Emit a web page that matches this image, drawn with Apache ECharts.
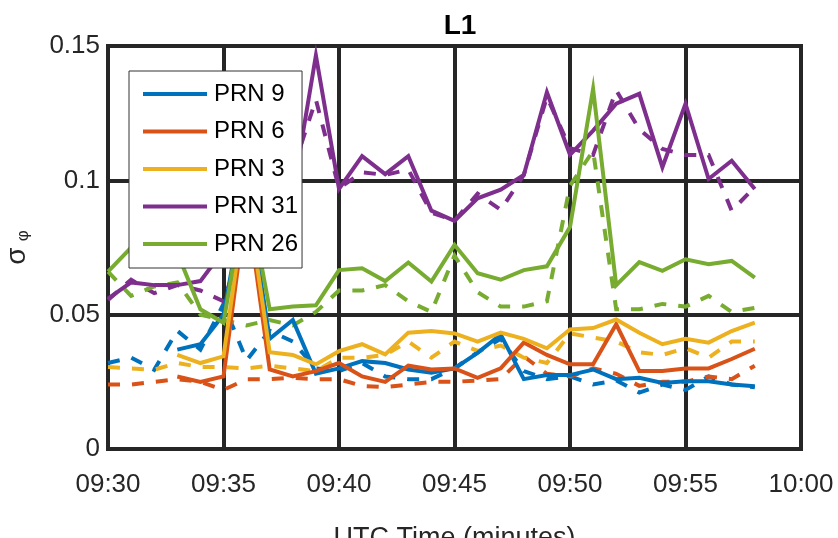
<!DOCTYPE html>
<html><head><meta charset="utf-8">
<script src="https://cdn.jsdelivr.net/npm/echarts@6/dist/echarts.min.js"></script>
<style>html,body{margin:0;padding:0;background:#fff}#c{width:838px;height:538px}</style>
</head><body><div id="c"></div>
<script>
const FONT = '"Liberation Sans",Arial,sans-serif';
// minutes after 09:30
const minutes = [0,1,2,3,4,5,6,7,8,9,10,11,12,13,14,15,16,17,18,19,20,21,22,23,24,25,26,27,28];
const tickLabels = ['09:30','09:35','09:40','09:45','09:50','09:55','10:00'];
const prnNames = ['PRN 9','PRN 6','PRN 3','PRN 31','PRN 26'];
const colors = ['#0072BD','#D95319','#EDB120','#7E2F8E','#77AC30'];

const prn9Solid  = [null,null,null,0.037,0.039,0.050,0.097,0.041,0.048,0.028,0.030,0.0327,0.032,0.0296,0.0284,0.030,0.0358,0.0426,0.026,0.0275,0.0275,0.0296,0.026,0.0265,0.0246,0.0252,0.0252,0.024,0.0234];
const prn9Dash   = [0.032,0.034,0.0295,0.044,0.037,0.054,0.033,0.044,0.040,0.030,0.029,0.032,0.027,0.026,0.026,0.030,0.036,0.041,0.029,0.026,0.027,0.024,0.0255,0.021,0.024,0.022,0.027,0.024,0.023];
const prn6Solid  = [null,null,null,0.027,0.025,0.027,0.092,0.0296,0.027,0.029,0.032,0.027,0.025,0.031,0.0296,0.030,0.0265,0.030,0.0396,0.035,0.0315,0.0315,0.0464,0.029,0.029,0.030,0.030,0.0335,0.0373];
const prn6Dash   = [0.024,0.024,0.025,0.026,0.025,0.022,0.026,0.026,0.0265,0.026,0.026,0.0235,0.023,0.024,0.025,0.025,0.0255,0.026,0.0345,0.028,0.027,0.030,0.028,0.0235,0.025,0.025,0.027,0.026,0.031];
const prn3Solid  = [null,null,null,0.035,0.032,0.0345,0.095,0.036,0.035,0.0315,0.0364,0.039,0.0352,0.0433,0.0439,0.043,0.040,0.0433,0.041,0.0375,0.0445,0.045,0.0482,0.0433,0.039,0.041,0.0396,0.0439,0.047];
const prn3Dash   = [0.0305,0.030,0.0295,0.032,0.0305,0.0305,0.030,0.031,0.030,0.029,0.034,0.034,0.035,0.040,0.034,0.040,0.0365,0.0385,0.034,0.032,0.043,0.0415,0.040,0.036,0.035,0.0375,0.034,0.040,0.040];
const prn31Solid = [0.056,0.062,0.061,0.061,0.0625,0.074,0.085,0.080,0.095,0.1465,0.0968,0.109,0.1023,0.109,0.0887,0.0849,0.0933,0.0965,0.102,0.1328,0.1095,0.1185,0.1285,0.1322,0.1049,0.1285,0.1005,0.1073,0.0968];
const prn31Dash  = [0.0555,0.063,0.058,0.061,0.059,0.055,0.080,0.085,0.104,0.130,0.097,0.103,0.102,0.104,0.088,0.085,0.095,0.089,0.102,0.131,0.112,0.1095,0.1335,0.119,0.1117,0.1094,0.1094,0.0887,0.0975];
const prn26Solid = [0.066,0.075,0.074,0.073,0.052,0.047,0.098,0.052,0.053,0.0535,0.0666,0.0673,0.0625,0.0694,0.0623,0.076,0.0654,0.063,0.0666,0.068,0.0826,0.134,0.061,0.0696,0.0663,0.0706,0.0688,0.070,0.0638];
const prn26Dash  = [0.066,0.057,0.0605,0.062,0.050,0.048,0.046,0.048,0.046,0.051,0.059,0.059,0.061,0.055,0.051,0.072,0.0584,0.053,0.053,0.055,0.098,0.111,0.052,0.052,0.054,0.053,0.057,0.051,0.0525];

const solids = [prn9Solid, prn6Solid, prn3Solid, prn31Solid, prn26Solid];
const dashes = [prn9Dash, prn6Dash, prn3Dash, prn31Dash, prn26Dash];

function pts(arr){ const out=[]; arr.forEach((v,i)=>{ if(v!==null) out.push([minutes[i], v]); }); return out; }

const series = [];
dashes.forEach((arr,k)=>{
  series.push({name: prnNames[k]+' (dashed)', type:'line', data: pts(arr), symbol:'none', silent:true,
    lineStyle:{color:colors[k], width:4, type:[12,12], cap:'butt', join:'miter'}, itemStyle:{color:colors[k]}, z:2});
});
solids.forEach((arr,k)=>{
  series.push({name: prnNames[k], type:'line', data: pts(arr), symbol:'none', silent:true,
    lineStyle:{color:colors[k], width:4, type:'solid', join:'miter'}, itemStyle:{color:colors[k]}, z:3});
});

const chart = echarts.init(document.getElementById('c'), null, {renderer:'canvas'});
chart.setOption({
  animation:false,
  backgroundColor:'#fff',
  title:{text:'L1', left:455, top:7, textAlign:'center',
    textStyle:{fontFamily:FONT, fontSize:28, fontWeight:'bold', color:'#000'}},
  grid:{left:108, right:37, top:46, bottom:89, show:true, borderColor:'#262626', borderWidth:4, backgroundColor:'#fff',
    outerBoundsMode:'none', containLabel:false},
  legend:{data:prnNames.map(n=>({name:n, icon:'rect'})), orient:'vertical', left:129, top:71, backgroundColor:'#fff', borderColor:'#333', borderWidth:1,
    padding:[10,4,11,14], itemWidth:64, itemHeight:4, itemGap:11.5,
    textStyle:{fontFamily:FONT, fontSize:24, color:'#000', lineHeight:26, padding:[0,0,0,2]}, z:10},
  xAxis:{type:'value', min:0, max:30, interval:5,
    axisLine:{show:false}, axisTick:{show:false},
    splitLine:{show:true, lineStyle:{color:'#262626', width:4}},
    axisLabel:{margin:23, fontFamily:FONT, fontSize:26, color:'#262626', formatter:(v)=>tickLabels[Math.round(v/5)]},
    name:'UTC Time (minutes)', nameLocation:'middle', nameGap:76,
    nameTextStyle:{fontFamily:FONT, fontSize:27, color:'#262626'}},
  yAxis:{type:'value', min:0, max:0.15, interval:0.05,
    axisLine:{show:false}, axisTick:{show:false},
    splitLine:{show:true, lineStyle:{color:'#262626', width:4}},
    axisLabel:{margin:8, fontFamily:FONT, fontSize:26, color:'#262626'},
    name:'{s|σ}{p|φ}', nameLocation:'middle', nameRotate:90, nameGap:76,
    nameTextStyle:{rich:{s:{fontFamily:FONT, fontSize:28, color:'#262626'}, p:{fontFamily:FONT, fontSize:17, color:'#262626', padding:[12,0,0,6]}}}},
  series: series
});
</script></body></html>
